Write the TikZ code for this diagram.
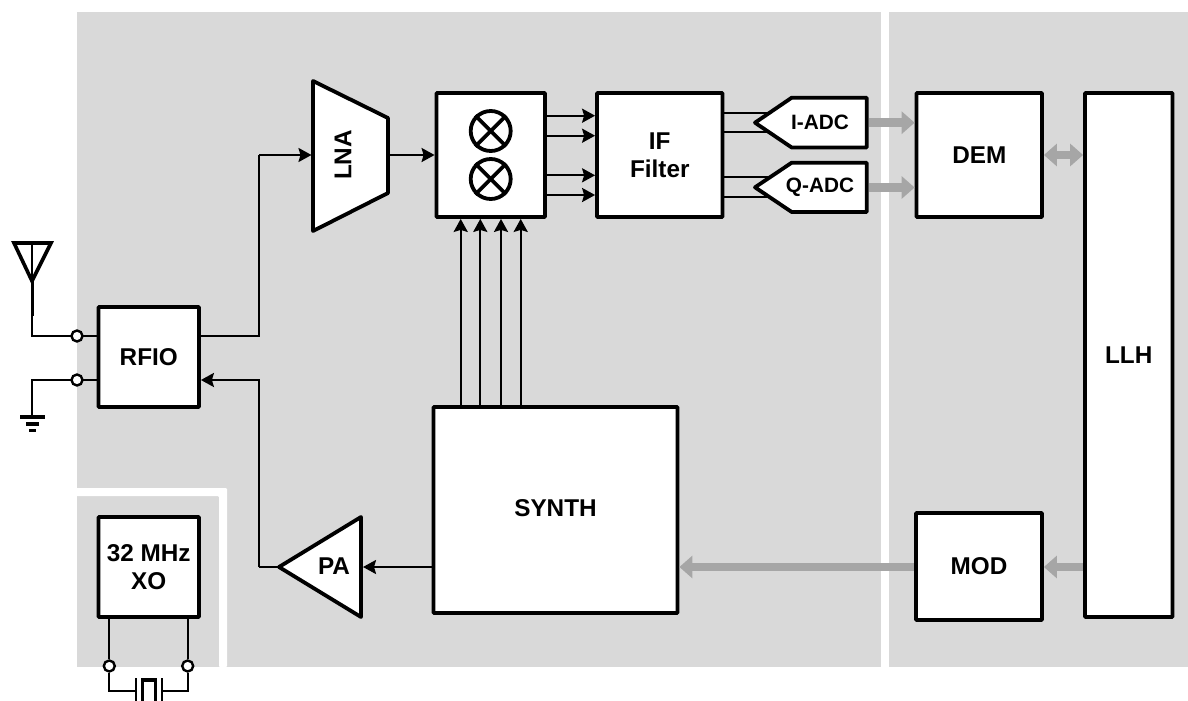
\documentclass[tikz,border=0pt]{standalone}
\usepackage{fontspec}
\setmainfont{Liberation Sans}
\usetikzlibrary{arrows.meta,calc}
\definecolor{panel}{HTML}{D9D9D9}
\definecolor{bus}{HTML}{A6A6A6}
\tikzset{
  lbl/.style={font=\fontsize{24.3}{27}\selectfont\bfseries, align=center, inner sep=0pt},
  adclbl/.style={font=\fontsize{20.8}{24}\selectfont\bfseries, inner sep=0pt},
  block/.style={draw=black, fill=white, line width=3.8pt, rounded corners=0.8pt, inner sep=0pt, anchor=north west},
  poly/.style={draw=black, fill=white, line width=3.8pt, line join=round},
  wire/.style={draw=black, line width=2.3pt},
  conn/.style={wire, -{Stealth[length=13pt,width=14pt,inset=2pt]}},
  busline/.style={draw=bus, line width=8.5pt, -{Triangle[length=13pt,width=22pt]}},
  busboth/.style={draw=bus, line width=8.5pt, {Triangle[length=13pt,width=22pt]}-{Triangle[length=13pt,width=22pt]}},
  term/.style={circle, draw=black, fill=white, line width=2.4pt, minimum size=11pt, inner sep=0pt},
  mixc/.style={circle, draw=black, fill=white, line width=3.8pt, minimum size=40pt, inner sep=0pt}
}
\newcommand{\boxnode}[6]{% name, x, y, w, h, text
  \node[block, lbl, minimum width=#4pt, minimum height=#5pt] (#1) at (#2-1.9,#3-1.9) {#6};}
\begin{document}
\begin{tikzpicture}[x=1pt,y=-1pt]
\useasboundingbox (0,0) rectangle (1188,701);
% panels
\fill[panel] (77,12) rectangle (881,667);
\fill[panel] (889,12) rectangle (1188,667);
\fill[white, rounded corners=1pt] (70,488) -- (227,488) -- (227,667) -- (219,667) -- (219,496) -- (70,496) -- cycle;
\fill[white] (60,488) rectangle (77,701);
% named coordinates for polygons and free ends
\coordinate (antapex) at (32,281);
\coordinate (anttop) at (32,243);
\coordinate (gnd) at (32,417);
\coordinate (ljoin) at (259,155);
\coordinate (rjoin) at (259,336);
\coordinate (pjoin) at (259,567);
\coordinate (lnain) at (311.5,155);
\coordinate (lnaout) at (388,155);
\coordinate (paout) at (279,567);
\coordinate (pain) at (363,567);
\coordinate (itip) at (755,122.7);
\coordinate (qtip) at (755,187.3);
\coordinate (xtalL) at (135.7,690.7);
\coordinate (xtalR) at (162.3,690.7);
% blocks (x,y of the stroke centre)
\boxnode{rfio}{98.5}{307}{100.5}{100}{RFIO}
\boxnode{mix}{436.5}{93}{108.5}{124}{}
\boxnode{iff}{597}{93}{125.5}{124}{IF\\[1pt]Filter}
\boxnode{dem}{916.5}{93}{125.5}{124}{DEM}
\boxnode{llh}{1085}{93}{87.5}{524}{LLH}
\boxnode{mod}{916}{513}{126}{107}{MOD}
\boxnode{synth}{433.5}{407}{244}{206}{\raisebox{4pt}{SYNTH}}
\boxnode{xo}{98.5}{517}{100.5}{100}{32 MHz\\[1pt]XO}
% mixer symbols
\node[mixc] (m1) at (490.7,131) {};
\node[mixc] (m2) at (490.7,179) {};
\foreach \m in {m1,m2} {
  \draw[line width=3.8pt] (\m.45) -- (\m.225);
  \draw[line width=3.8pt] (\m.135) -- (\m.315);
}
% wires behind polygons
\draw[wire] (iff.east |- 0,112.7) -- (780,112.7);
\draw[wire] (iff.east |- 0,132.3) -- (780,132.3);
\draw[wire] (iff.east |- 0,177.3) -- (780,177.3);
\draw[wire] (iff.east |- 0,197.3) -- (780,197.3);
% LNA, PA, ADC polygons
\draw[poly] (313,81) -- (388,118) -- (388,193) -- (313,231) -- cycle;
\node[lbl, rotate=90] (lna) at (343,155) {LNA};
\draw[poly] (279,567) -- (361,517) -- (361,617) -- cycle;
\node[lbl] (pa) at (334,566.5) {PA};
\draw[poly] (itip) -- (791.7,97.7) -- (866.7,97.7) -- (866.7,147.5) -- (791.7,147.5) -- cycle;
\node[adclbl] (iadc) at (820,122.7) {I-ADC};
\draw[poly] (qtip) -- (791.7,162.7) -- (866.7,162.7) -- (866.7,212) -- (791.7,212) -- cycle;
\node[adclbl] (qadc) at (820,187.5) {Q-ADC};
% antenna and ground
\draw[line width=3.6pt, line join=miter] (14,243) -- (51,243) -- (antapex) -- cycle;
\draw[line width=2.6pt] (anttop) -- (antapex);
\draw[line width=3pt] (antapex) -- (32,316);
\draw[wire] (32,316) -- (32,336) -- (rfio.west |- 0,336);
\draw[wire] (gnd) -- (32,380) -- (rfio.west |- 0,380);
\draw[line width=3.6pt] (20,417) -- (45,417);
\draw[line width=3.6pt] (26,424) -- (39,424);
\draw[line width=3.6pt] (29,430.5) -- (36,430.5);
\node[term] (t1) at (77,336) {};
\node[term] (t2) at (77,380) {};
% RF path
\draw[wire] (rfio.east |- rjoin) -- (rjoin) -- (ljoin);
\draw[conn] (ljoin) -- (lnain);
\draw[conn] (lnaout) -- (mix.west |- lnaout);
\foreach \yy in {115.7,135.7,175.3,195} {
  \draw[conn] (mix.east |- 0,\yy) -- (iff.west |- 0,\yy);
}
\foreach \xx in {460.7,480.3,501,520.7} {
  \draw[conn] (synth.north -| \xx,0) -- (mix.south -| \xx,0);
}
\draw[conn] (synth.west |- pain) -- (pain);
\draw[wire] (paout) -- (pjoin);
\draw[conn] (pjoin) -- (259,380) -- (rfio.east |- 0,380);
% buses
\draw[busline] (869,122.7) -- (dem.west |- 0,122.7);
\draw[busline] (869,187.5) -- (dem.west |- 0,187.5);
\draw[busboth] (dem.east |- 0,155) -- (llh.west |- 0,155);
\draw[busline] (llh.west |- 0,567) -- (mod.east |- 0,567);
\draw[busline] (mod.west |- 0,567) -- (synth.east |- 0,567);
% crystal
\node[term] (c1) at (109.3,666) {};
\node[term] (c2) at (187.7,666) {};
\draw[wire] (xo.south -| c1) -- (c1);
\draw[wire] (xo.south -| c2) -- (c2);
\draw[wire] (c1) -- (109.3,690.7) -- (xtalL);
\draw[wire] (c2) -- (187.7,690.7) -- (xtalR);
\draw[wire] (135.7,678) -- (135.7,701);
\draw[wire] (162.3,678) -- (162.3,701);
\draw[line width=3.8pt] (142.5,701) -- (142.5,680) -- (155.5,680) -- (155.5,701);
\end{tikzpicture}
\end{document}
